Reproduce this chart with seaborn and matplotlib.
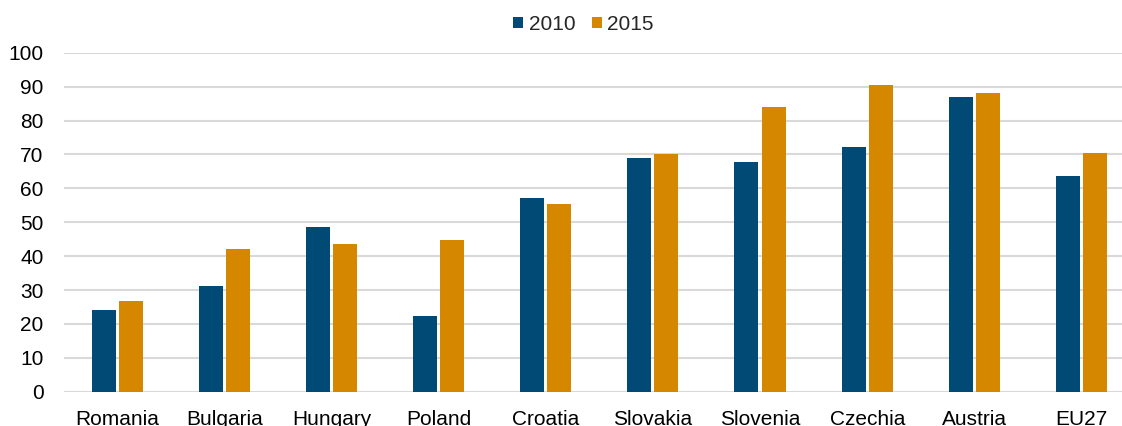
import matplotlib
matplotlib.use("Agg")
import matplotlib.pyplot as plt
import seaborn as sns
import pandas as pd

countries = ["Romania", "Bulgaria", "Hungary", "Poland", "Croatia",
             "Slovakia", "Slovenia", "Czechia", "Austria", "EU27"]
values_2010 = [24.0, 31.1, 48.5, 22.4, 57.0, 68.9, 67.8, 72.1, 86.8, 63.5]
values_2015 = [26.7, 42.1, 43.6, 44.7, 55.3, 70.0, 84.0, 90.5, 88.0, 70.4]
years = ["2010", "2015"]
y_ticks = [0, 10, 20, 30, 40, 50, 60, 70, 80, 90, 100]

df = pd.DataFrame({
    "country": countries * 2,
    "value": values_2010 + values_2015,
    "year": [years[0]] * len(countries) + [years[1]] * len(countries),
})

sns.set_theme(style="white")
plt.rcParams["font.family"] = ["Liberation Sans", "DejaVu Sans"]

fig = plt.figure(figsize=(11.22, 4.26), dpi=100)
ax = fig.add_axes([63.6 / 1122, 1 - 391.7 / 426, (1122 - 63.6) / 1122, (391.7 - 52.7) / 426])

palette = {"2010": "#004A75", "2015": "#D58700"}
sns.barplot(data=df, x="country", y="value", hue="year", palette=palette,
            width=0.507, gap=0.116, ax=ax, saturation=1, edgecolor="none", legend=True)

ax.set_ylim(0, 100)
ax.set_xlim(-0.5, 9.378)
ax.set_yticks(y_ticks)
ax.set_yticklabels([str(t) for t in y_ticks])
ax.yaxis.grid(True, color="#D9D9D9", linewidth=1.5)
ax.set_axisbelow(True)
for s in ["top", "right", "left", "bottom"]:
    ax.spines[s].set_visible(False)
ax.tick_params(axis="both", length=0, labelsize=15, colors="#000000")
ax.tick_params(axis="x", pad=13.5)
ax.tick_params(axis="y", pad=14.5)
ax.set_xlabel("")
ax.set_ylabel("")

handles, labels = ax.get_legend_handles_labels()
ax.legend_.remove()
fig.legend(handles, labels, loc="center", bbox_to_anchor=(0.520, 0.9425), ncol=2,
           frameon=False, fontsize=15, handlelength=0.48, handleheight=0.48,
           handletextpad=0.27, columnspacing=0.8)

fig.savefig("out.png", dpi=100)
